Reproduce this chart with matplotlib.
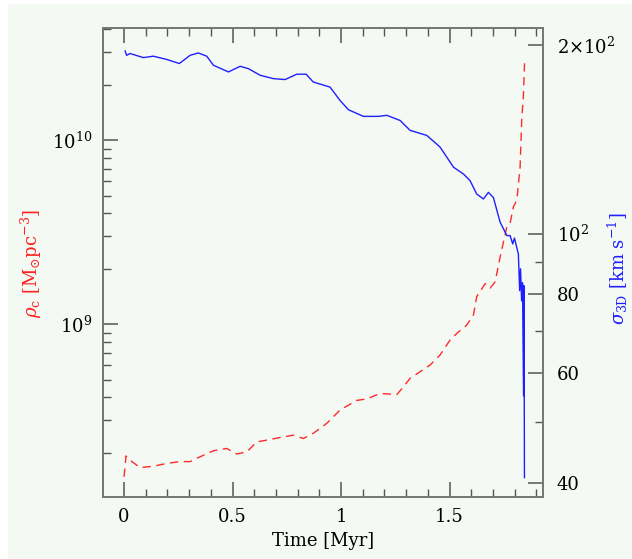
import numpy as np
import matplotlib
matplotlib.use('Agg')
import matplotlib.pyplot as plt
from matplotlib.patches import Rectangle
from matplotlib.ticker import FixedLocator, FixedFormatter, NullFormatter

plt.rcParams['font.family'] = 'DejaVu Serif'
plt.rcParams['mathtext.fontset'] = 'dejavuserif'

# central density rho_c [Msun pc^-3] vs time [Myr]
t_rho = [0.000, 0.009, 0.028, 0.074, 0.135, 0.197, 0.258, 0.304, 0.350, 0.412,
         0.473, 0.519, 0.565, 0.612, 0.673, 0.719, 0.780, 0.826, 0.872, 0.934,
         0.995, 1.072, 1.118, 1.180, 1.257, 1.287, 1.318, 1.364, 1.410, 1.456,
         1.502, 1.533, 1.579, 1.610, 1.625, 1.664, 1.687, 1.710, 1.733, 1.764,
         1.779, 1.794, 1.810, 1.825, 1.833, 1.840, 1.846]
rho_c = [1.48e8, 1.92e8, 1.82e8, 1.66e8, 1.69e8, 1.75e8, 1.79e8, 1.79e8, 1.90e8, 2.05e8,
         2.11e8, 1.97e8, 2.02e8, 2.29e8, 2.36e8, 2.42e8, 2.49e8, 2.39e8, 2.55e8, 2.89e8,
         3.41e8, 3.85e8, 3.92e8, 4.20e8, 4.14e8, 4.56e8, 5.07e8, 5.51e8, 5.99e8, 6.79e8,
         8.19e8, 8.90e8, 9.88e8, 1.12e9, 1.41e9, 1.66e9, 1.57e9, 1.70e9, 2.32e9, 3.38e9,
         3.53e9, 4.34e9, 4.72e9, 7.16e9, 1.34e10, 1.72e10, 2.72e10]

# 3D velocity dispersion [km/s] vs time [Myr]
t_sig = [0.005, 0.012, 0.028, 0.089, 0.135, 0.197, 0.255, 0.304, 0.342, 0.381,
         0.412, 0.481, 0.535, 0.573, 0.627, 0.688, 0.742, 0.796, 0.839, 0.872,
         0.949, 0.995, 1.034, 1.103, 1.172, 1.211, 1.272, 1.318, 1.395, 1.456,
         1.518, 1.564, 1.594, 1.625, 1.656, 1.679, 1.702, 1.733, 1.764, 1.779,
         1.791, 1.799, 1.817, 1.823, 1.827, 1.832, 1.836, 1.841, 1.843, 1.845]
sigma = [195.7, 192.6, 193.9, 191.0, 192.0, 189.7, 186.9, 192.6, 194.3, 192.0,
         185.7, 181.2, 185.0, 183.4, 179.0, 176.8, 176.2, 179.7, 179.7, 174.6,
         171.4, 163.2, 157.7, 153.9, 153.9, 154.5, 151.6, 146.2, 143.5, 137.5,
         127.7, 124.5, 121.6, 115.7, 113.6, 116.4, 114.2, 104.3, 99.3, 99.3,
         96.3, 98.4, 92.8, 81.1, 87.9, 78.1, 83.5, 55.1, 82.6, 40.8]

sig_major = [40, 60, 80, 100, 200]
sig_labels = ['40', '60', '80', r'$10^2$', r'$2{\times}10^2$']
sig_minor = [50, 70, 90]

fig = plt.figure(figsize=(6.32, 5.59), dpi=100, facecolor='white')
fig.patches.append(Rectangle((8 / 632, 0), 1, 1 - 4 / 559, transform=fig.transFigure,
                             facecolor='#f4f9f3', edgecolor='none', zorder=-10))

ax = fig.add_axes([0.163, 0.111, 0.696, 0.839])
ax.set_facecolor('none')
ax.plot(t_rho, rho_c, color='#ff2a2a', lw=1.0, ls=(0, (6, 4)))
ax.set_yscale('log')
ax.set_xlim(-0.097, 1.93)
ax.set_ylim(1.15e8, 4.07e10)
ax.set_xticks([0, 0.5, 1, 1.5])
ax.set_xticklabels(['0', '0.5', '1', '1.5'])
ax.set_xticks(np.arange(0.1, 1.95, 0.1), minor=True)
ax.tick_params(which='both', direction='in', top=True, right=False, color='#555555',
               labelsize=13, pad=8)
ax.tick_params(which='major', length=11, width=1.1)
ax.tick_params(which='minor', length=5.5, width=1.0)
ax.yaxis.set_minor_formatter(NullFormatter())
ax.set_xlabel('Time [Myr]', fontsize=13, labelpad=4)

ax2 = ax.twinx()
ax2.plot(t_sig, sigma, color='#1f1fff', lw=1.0)
ax2.set_yscale('log')
ax2.set_ylim(38.0, 213.0)
ax2.yaxis.set_major_locator(FixedLocator(sig_major))
ax2.yaxis.set_major_formatter(FixedFormatter(sig_labels))
ax2.yaxis.set_minor_locator(FixedLocator(sig_minor))
ax2.yaxis.set_minor_formatter(NullFormatter())
ax2.tick_params(which='both', direction='in', color='#555555', labelsize=13, pad=10)
ax2.tick_params(which='major', length=11, width=1.1)
ax2.tick_params(which='minor', length=5.5, width=1.0)

for a in (ax, ax2):
    for s in a.spines.values():
        s.set_color('#777777')
        s.set_linewidth(1.3)

fig.text(0.049, 0.529, r'$\rho_{\rm c}$ [M$_{\odot}$pc$^{-3}$]', color='#ff2020',
         rotation=90, ha='center', va='center', fontsize=13)
fig.text(0.978, 0.52, r'$\sigma_{\rm 3D}$ [km s$^{-1}$]', color='#2020ff',
         rotation=90, ha='center', va='center', fontsize=13)

fig.savefig('out.png', dpi=100)
